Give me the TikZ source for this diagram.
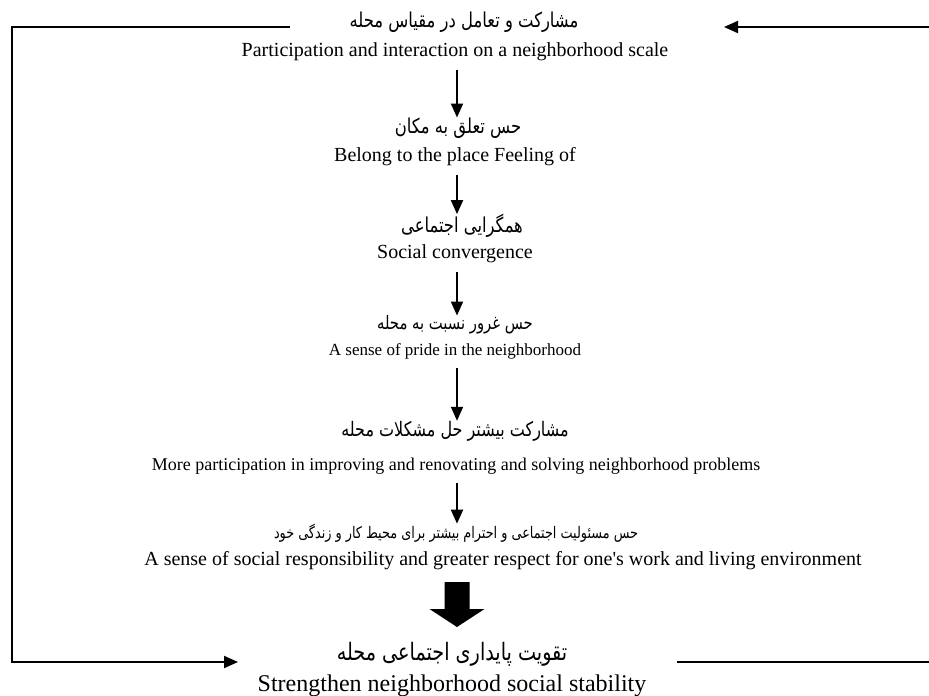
\documentclass[tikz,border=0pt]{standalone}
\usepackage{fontspec}
\setmainfont{Liberation Serif}
\newfontfamily\persianfont[Script=Arabic, FakeStretch=0.8]{DejaVu Sans}
\TeXXeTstate=1
\usetikzlibrary{arrows.meta}

\begin{document}
\begin{tikzpicture}[x=1pt, y=-1pt,
    fa/.style={inner sep=0pt, font=\fontsize{20.5}{22}\selectfont\persianfont},
    en/.style={inner sep=0pt, font=\fontsize{20}{22}\selectfont},
    flow/.style={line width=2pt, shorten <=9pt, -{Triangle[length=14pt, width=12pt]}},
    loopline/.style={line width=2pt}]
    \useasboundingbox (0,0) rectangle (929,696);

    % Chain of steps: Persian line, English line
    \node[fa] (fa1) at (464,22) {\beginR مشارکت و تعامل در مقیاس محله\endR};
    \node[en] (en1) at (455,52) {Participation and interaction on a neighborhood scale};

    \node[fa] (fa2) at (458,128) {\beginR حس تعلق به مکان\endR};
    \node[en] (en2) at (455,157) {Belong to the place Feeling of};

    \node[fa] (fa3) at (462,226) {\beginR همگرایی اجتماعی\endR};
    \node[en] (en3) at (455,254) {Social convergence};

    \node[fa, font=\fontsize{18.5}{20}\selectfont\persianfont] (fa4) at (455,325) {\beginR حس غرور نسبت به محله\endR};
    \node[en, font=\fontsize{17}{19}\selectfont] (en4) at (455,351) {A sense of pride in the neighborhood};

    \node[fa, font=\fontsize{20}{22}\selectfont\persianfont] (fa5) at (455,431) {\beginR مشارکت بیشتر حل مشکلات محله\endR};
    \node[en, font=\fontsize{18}{20}\selectfont] (en5) at (456,466) {More participation in improving and renovating and solving neighborhood problems};

    \node[fa, font=\fontsize{16}{18}\selectfont\persianfont] (fa6) at (456,533) {\beginR حس مسئولیت اجتماعی و احترام بیشتر برای محیط کار و زندگی خود\endR};
    \node[en] (en6) at (503,561) {A sense of social responsibility and greater respect for one\textquotesingle s work and living environment};

    \node[fa, font=\fontsize{24}{26}\selectfont\persianfont] (fa7) at (452,654) {\beginR تقویت پایداری اجتماعی محله\endR};
    \node[en, font=\fontsize{24}{26}\selectfont] (en7) at (452,686) {Strengthen neighborhood social stability};

    % Arrows between steps
    \coordinate (axis) at (457,0);
    \foreach \a/\b in {en1/fa2, en2/fa3, en3/fa4, en4/fa5, en5/fa6}
      \draw[flow] (axis |- \a.south) -- (axis |- \b.north);

    % Block arrow to the last step
    \fill (444.5,582) -- ++(25,0) -- ++(0,27) -- ++(15,0)
      -- ++(-27.5,18) -- ++(-27.5,-18) -- ++(15,0) -- cycle;

    % Feedback loop
    \coordinate (topL) at (290,27);
    \coordinate (cornerTL) at (12,27);
    \coordinate (cornerBL) at (12,662);
    \coordinate (botL) at (238,662);
    \coordinate (topR) at (929,27);
    \coordinate (tipR) at (724,27);
    \coordinate (botR) at (677,662);
    \coordinate (edgeR) at (929,662);
    \draw[loopline, -{Triangle[length=14pt, width=12pt]}] (topL) -- (cornerTL) -- (cornerBL) -- (botL);
    \draw[loopline, -{Triangle[length=14pt, width=12pt]}] (topR) -- (tipR);
    \draw[loopline] (botR) -- (edgeR);
\end{tikzpicture}
\end{document}
